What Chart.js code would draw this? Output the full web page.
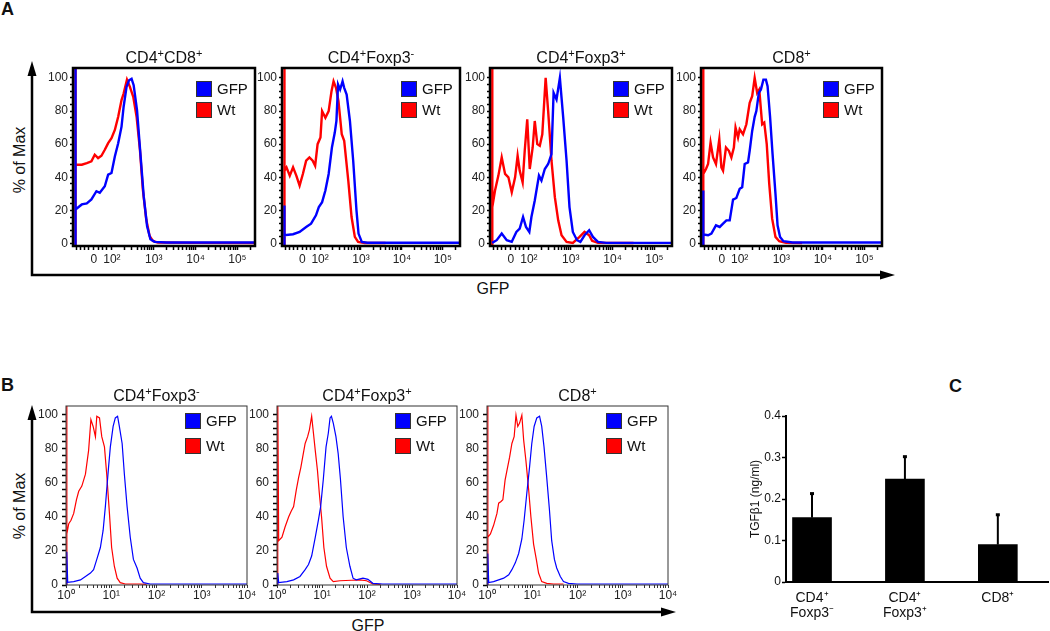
<!DOCTYPE html>
<html lang="en">
<head>
<meta charset="UTF-8">
<title>GFP reporter histograms and TGFβ1</title>
<script src="https://cdn.jsdelivr.net/npm/chart.js"></script>
<style>
    body { margin: 0; background: #fff; font-family: "Liberation Sans", Arial, sans-serif; }
    #page { position: relative; width: 1050px; height: 631px; overflow: hidden; background: #fff; }
    #page canvas { position: absolute; }
    #axes { position: absolute; left: 0; top: 0; }
    .lbl { position: absolute; color: #111; white-space: nowrap; font-size: 16px; line-height: 18px; }
    .letter { font-weight: bold; font-size: 18px; }
    .rot { transform: translate(-50%, -50%) rotate(-90deg); }
    .ctr { transform: translate(-50%, -50%); }
</style>
</head>
<body>
<div id="page">
    <svg id="axes" width="1050" height="631">
        <polyline points="32,74 32,275 881,275" fill="none" stroke="#000" stroke-width="2.5"/>
        <polygon points="32,61 27.5,76 36.5,76" fill="#000"/>
        <polygon points="895,275 880,270.5 880,279.5" fill="#000"/>
        <polyline points="32,418 32,612 662,612" fill="none" stroke="#000" stroke-width="2.5"/>
        <polygon points="32,405 27.5,420 36.5,420" fill="#000"/>
        <polygon points="676,612 661,607.5 661,616.5" fill="#000"/>
    </svg>
    <div class="lbl letter" style="left:1px;top:0px">A</div>
    <div class="lbl letter" style="left:1px;top:376px">B</div>
    <div class="lbl letter" style="left:949px;top:377px">C</div>
    <div class="lbl rot" style="left:20px;top:160px">% of Max</div>
    <div class="lbl ctr" style="left:493px;top:289px">GFP</div>
    <div class="lbl rot" style="left:20px;top:506px">% of Max</div>
    <div class="lbl ctr" style="left:368px;top:626px">GFP</div>
</div>

<script>
    Chart.defaults.font.family = '"Liberation Sans", Arial, sans-serif';
    Chart.defaults.color = '#111';

    // ---- data ----
    const SERIES = ['GFP', 'Wt'];
    const SERIES_COLORS = ['#0000ff', '#ff0000'];

    // panel A: x in display decades of the biexponential axis, y in % of max
    const A_TITLES = ['CD4⁺CD8⁺', 'CD4⁺Foxp3⁻', 'CD4⁺Foxp3⁺', 'CD8⁺'];
    const A_X_TICKS = [1.57, 2, 3, 4, 5];
    const A_X_LABELS = ['0', '10²', '10³', '10⁴', '10⁵'];
    const A_Y_LABELS = [0, 20, 40, 60, 80, 100];

    const A1_GFP = [[1.12,-2],[1.12,120],[1.14,20.6],[1.28,23.6],[1.40,24.2],[1.51,26.6],[1.63,31.6],[1.71,30.6],[1.83,34.6],[1.91,41.6],[1.99,42.6],[2.07,52.6],[2.15,60.6],[2.23,70.6],[2.28,82.6],[2.35,94.6],[2.41,98.6],[2.47,99.5],[2.52,95.6],[2.60,80.6],[2.68,54.6],[2.76,28.6],[2.84,10.6],[2.92,2.6],[3.02,1],[3.30,0.6],[4.89,0.6],[5.42,0.6]];
    const A1_WT = [[1.12,-2],[1.12,120],[1.14,47.6],[1.28,47.6],[1.40,48.6],[1.51,49.6],[1.59,53.6],[1.67,51.6],[1.75,53],[1.83,56.6],[1.91,60.6],[1.99,63.6],[2.07,68.6],[2.15,76.6],[2.23,86.6],[2.28,90.6],[2.36,99],[2.43,94.6],[2.51,88.6],[2.59,76.6],[2.67,56.6],[2.74,32.6],[2.82,14.6],[2.90,4.6],[2.98,1.6],[3.10,0.6],[4.0,0.4],[5.42,0.3]];

    const A2_GFP = [[1.12,-2],[1.12,23],[1.14,5],[1.34,5.6],[1.50,7],[1.66,10],[1.78,12],[1.90,17],[1.97,22],[2.05,25],[2.13,32],[2.21,42],[2.29,58],[2.36,67],[2.40,74],[2.44,96],[2.49,93],[2.55,98],[2.59,94],[2.65,90],[2.73,74],[2.81,50],[2.89,20],[2.94,6],[3.02,1],[3.16,0.5],[5.42,0.5]];
    const A2_WT = [[1.12,-2],[1.12,120],[1.14,44],[1.18,46],[1.26,41],[1.34,46],[1.42,41],[1.50,35],[1.58,42],[1.66,50],[1.74,52],[1.82,50],[1.88,47],[1.94,60],[2.01,64],[2.05,80],[2.13,76],[2.21,80],[2.28,92],[2.33,98],[2.39,94],[2.45,86],[2.53,66],[2.59,62],[2.69,38],[2.77,16],[2.85,4],[2.93,1],[3.09,0.3],[3.6,0.3]];

    const A3_GFP = [[1.12,0.4],[1.23,2],[1.35,6],[1.47,2],[1.59,1],[1.70,7],[1.78,9],[1.86,16],[1.93,10],[2.01,7],[2.06,16],[2.14,26],[2.24,41],[2.30,38],[2.38,45],[2.46,48],[2.54,54],[2.59,91],[2.66,87],[2.74,100],[2.82,76],[2.90,50],[2.97,22],[3.05,7],[3.15,2],[3.23,1],[3.33,5],[3.44,8],[3.53,4],[3.65,1],[3.85,0.4],[5.42,0.4]];
    const A3_WT = [[1.12,-2],[1.12,120],[1.13,22],[1.19,32],[1.27,41],[1.35,52],[1.43,42],[1.51,40],[1.59,31],[1.67,40],[1.73,53],[1.78,44],[1.85,37],[1.90,56],[1.96,75],[2.02,45],[2.09,58],[2.14,74],[2.20,60],[2.26,59],[2.32,66],[2.40,100],[2.46,80],[2.54,50],[2.62,28],[2.70,14],[2.78,5],[2.90,1],[3.05,0.4],[3.21,4],[3.33,7],[3.44,5],[3.51,1.6],[3.65,0.4],[4.5,0.3]];

    const A4_GFP = [[1.12,-2],[1.12,32],[1.13,5.5],[1.24,5],[1.32,6],[1.43,11],[1.52,10],[1.60,12],[1.68,14],[1.76,14],[1.84,26.5],[1.92,27.5],[2.00,33],[2.06,34],[2.12,48],[2.20,49],[2.24,56],[2.30,68],[2.36,76.5],[2.40,80],[2.46,91],[2.51,93],[2.57,99],[2.63,99],[2.67,95],[2.73,76.5],[2.79,54],[2.86,30],[2.91,11],[2.97,4],[3.05,1.4],[3.27,0.6],[5.42,0.6]];
    const A4_WT = [[1.12,-2],[1.12,120],[1.13,42],[1.19,45],[1.24,48],[1.30,61],[1.36,52],[1.43,48],[1.51,63],[1.56,46],[1.60,44],[1.67,58],[1.74,56],[1.80,52],[1.86,58],[1.90,70],[1.96,64],[2.00,69],[2.08,66],[2.16,72],[2.24,85],[2.30,89],[2.36,100],[2.42,91],[2.47,93],[2.54,72],[2.59,73],[2.65,60],[2.71,36],[2.78,15],[2.86,4],[2.95,1.4],[3.11,0.4],[3.5,0.3]];

    // panel B: x in fluorescence units (log axis), y in % of max
    const B_TITLES = ['CD4⁺Foxp3⁻', 'CD4⁺Foxp3⁺', 'CD8⁺'];
    const B_X_LABELS = ['10⁰', '10¹', '10²', '10³', '10⁴'];
    const B_Y_LABELS = [0, 20, 40, 60, 80, 100];

    const B1_GFP = [[1.04,-1],[1.04,19.5],[1.09,1.6],[1.48,2],[2.09,3],[2.69,5],[3.47,7],[4.07,9],[4.79,15],[5.75,22],[6.61,32],[7.41,46],[7.94,56],[8.71,69],[9.55,81],[11.0,93],[12.3,98],[13.8,99],[15.1,93],[17.4,83],[19.5,65],[22.4,46],[26.3,28],[30.9,15],[37.2,10],[43.6,4],[51.3,1.4],[72.4,0.6],[10000,0.6]];
    const B1_WT = [[1.04,-1],[1.04,110],[1.05,30],[1.15,36],[1.29,38],[1.48,42],[1.70,50],[1.91,55],[2.24,58],[2.69,65],[3.16,79],[3.55,97],[3.98,93],[4.47,87],[4.79,99],[5.50,98],[6.17,87],[7.08,81],[7.94,65],[9.12,42],[10.2,22],[11.7,11],[13.5,4],[15.8,1.4],[20.4,0.6],[43.6,0.6],[60,0.4]];

    const B2_GFP = [[1.04,-1],[1.04,7],[1.09,1.4],[1.66,2],[2.34,3],[3.24,5],[4.22,9],[5.01,12],[5.89,17],[7.08,28],[8.32,38],[9.33,46],[10.7,62],[12.3,81],[13.8,89],[15.1,98],[16.2,99],[17.8,95],[20.4,87],[22.9,77],[25.7,62],[29.5,40],[34.7,22],[41.7,11],[49.0,4],[57.5,3],[81.3,4],[105,3.3],[135,1],[224,0.6],[10000,0.6]];
    const B2_WT = [[1.04,-1],[1.04,110],[1.09,26],[1.29,28],[1.51,34],[1.82,40],[2.04,43],[2.34,46],[2.69,56],[3.02,63],[3.39,69],[3.72,75],[4.22,83],[4.79,87],[5.25,91],[5.89,99],[6.46,89],[7.08,79],[7.94,67],[8.71,54],[9.77,40],[11.0,22],[12.6,11],[15.1,4],[17.8,2],[25.1,2.5],[45,2.8],[69.2,3],[97.7,2.5],[135,0.6],[200,0.4]];

    const B3_GFP = [[1.04,-1],[1.04,18.5],[1.09,1.4],[1.40,2],[1.81,3],[2.34,4],[3.02,6],[3.55,9],[4.22,13],[5.01,18.5],[5.89,27],[6.61,38],[7.59,54],[8.71,69],[9.77,83],[11.0,93],[12.6,98],[14.5,99],[16.2,93],[18.2,81],[20.9,63],[24.0,44],[26.9,26],[30.9,15],[34.7,10],[41.7,5],[49.0,2],[63.1,1],[97.7,0.6],[10000,0.6]];
    const B3_WT = [[1.04,-1],[1.04,110],[1.05,28],[1.19,30],[1.40,35],[1.66,42],[1.81,48],[2.04,49],[2.24,50],[2.51,61.5],[2.75,67],[3.16,75],[3.55,83],[3.98,87],[4.37,99.6],[4.79,93],[5.25,95],[5.89,99.6],[6.46,85],[7.24,73],[8.32,56],[9.33,40],[10.7,24],[12.3,15],[13.8,7],[16.2,2],[20.9,1],[29.5,0.6],[49.0,0.6]];

    // panel C
    const C_CATEGORIES = [['CD4⁺', 'Foxp3⁻'], ['CD4⁺', 'Foxp3⁺'], ['CD8⁺']];
    const C_MEAN = [0.155, 0.248, 0.09];
    const C_ERR = [0.058, 0.054, 0.072];
    const C_Y_TICKS = [0, 0.1, 0.2, 0.3, 0.4];
    const C_Y_LABELS = ['0', '0.1', '0.2', '0.3', '0.4'];

    // ---- layout ----
    const A_BOXES = [[73, 255], [282, 460], [490, 672], [701, 882]];
    const A_TOP = 68, A_BOTTOM = 246;
    const B_BOXES = [[66, 247], [277, 457], [487, 668]];
    const B_TOP = 406, B_BOTTOM = 585;

    const page = document.getElementById('page');
    const FONT = '"Liberation Sans", Arial, sans-serif';

    function addCanvas(left, top, w, h) {
        const c = document.createElement('canvas');
        c.width = w; c.height = h;
        c.style.left = left + 'px'; c.style.top = top + 'px';
        c.style.width = w + 'px'; c.style.height = h + 'px';
        page.appendChild(c);
        return c;
    }

    function steps(from, to, step) {
        const out = [];
        for (let v = from; v <= to + 1e-9; v += step) out.push(+v.toFixed(4));
        return out;
    }

    // split "CD4⁺Foxp3⁻" into normal and raised pieces
    const SUP = { '⁺': '+', '⁻': '-' };
    function splitSup(text) {
        const parts = [];
        for (const ch of text) {
            const sup = ch in SUP;
            const c = sup ? SUP[ch] : ch;
            const last = parts[parts.length - 1];
            if (last && last.sup === sup) last.t += c;
            else parts.push({ t: c, sup });
        }
        return parts;
    }

    // title with real superscripts, centred over the plot area
    const richTitle = {
        id: 'richTitle',
        afterDraw(chart, args, o) {
            const { ctx, chartArea: a } = chart;
            const parts = splitSup(o.text);
            ctx.save();
            ctx.fillStyle = '#111';
            ctx.textBaseline = 'alphabetic';
            let total = 0;
            parts.forEach(p => {
                ctx.font = (p.sup ? o.supSize : o.size) + 'px ' + FONT;
                p.w = ctx.measureText(p.t).width;
                total += p.w;
            });
            let x = (a.left + a.right) / 2 - total / 2;
            const base = a.top - o.gap;
            parts.forEach(p => {
                ctx.font = (p.sup ? o.supSize : o.size) + 'px ' + FONT;
                ctx.fillText(p.t, x, p.sup ? base - o.raise : base);
                x += p.w;
            });
            ctx.restore();
        }
    };

    // plot frame drawn over the curves
    const framePlugin = {
        id: 'frame',
        afterDatasetsDraw(chart, args, o) {
            const { ctx, chartArea: a } = chart;
            ctx.save();
            ctx.strokeStyle = o.color;
            ctx.lineWidth = o.width;
            ctx.strokeRect(a.left, a.top, a.right - a.left, a.bottom - a.top);
            ctx.restore();
        }
    };

    // legend boxes inside the plot, top right
    const boxLegend = {
        id: 'boxLegend',
        afterDraw(chart, args, o) {
            const { ctx, chartArea: a } = chart;
            ctx.save();
            ctx.font = o.fontSize + 'px ' + FONT;
            ctx.textBaseline = 'middle';
            chart.data.datasets.forEach((ds, i) => {
                const x = a.right - o.right, y = a.top + o.top + i * o.gap;
                ctx.fillStyle = ds.borderColor;
                ctx.fillRect(x, y, o.size, o.size);
                ctx.strokeStyle = '#333';
                ctx.lineWidth = 1;
                ctx.strokeRect(x + 0.5, y + 0.5, o.size - 1, o.size - 1);
                ctx.fillStyle = '#111';
                ctx.fillText(ds.label, x + o.size + 5, y + o.size / 2 + 1);
            });
            ctx.restore();
        }
    };

    const errorBars = {
        id: 'errorBars',
        afterDatasetsDraw(chart) {
            const { ctx } = chart;
            const y = chart.scales.y;
            ctx.save();
            ctx.strokeStyle = '#000';
            ctx.fillStyle = '#000';
            ctx.lineWidth = 2;
            chart.getDatasetMeta(0).data.forEach((bar, i) => {
                const top = y.getPixelForValue(C_MEAN[i] + C_ERR[i]);
                ctx.beginPath();
                ctx.moveTo(bar.x, bar.y);
                ctx.lineTo(bar.x, top);
                ctx.stroke();
                ctx.fillRect(bar.x - 2, top - 1.5, 4, 3);
            });
            ctx.restore();
        }
    };

    function aMarks() {
        const marks = [1.15, 1.25, 1.35, 1.45, 1.67, 1.77, 1.87].concat(A_X_TICKS);
        for (let n = 2; n <= 5; n++) {
            for (let k = 2; k <= 9; k++) {
                const u = n + Math.log10(k);
                if (u < 5.42) marks.push(u);
            }
        }
        return marks.sort((p, q) => p - q);
    }

    function bMarks() {
        const marks = [];
        for (let e = 0; e < 4; e++) for (let k = 1; k <= 9; k++) marks.push(k * Math.pow(10, e));
        marks.push(10000);
        return marks;
    }

    function histogram(box, top, bottom, title, curves, xScale, look) {
        const yW = 40, titleH = 24, padR = 15;
        const canvas = addCanvas(box[0] - yW, top - titleH, yW + box[1] - box[0] + padR, titleH + bottom - top + look.xH);
        return new Chart(canvas, {
            type: 'scatter',
            data: {
                datasets: curves.map((pts, i) => ({
                    label: SERIES[i],
                    data: pts.map(p => ({ x: p[0], y: p[1] })),
                    showLine: true,
                    borderColor: SERIES_COLORS[i],
                    backgroundColor: SERIES_COLORS[i],
                    borderWidth: look.lineW,
                    pointRadius: 0,
                    tension: 0
                }))
            },
            options: {
                responsive: false,
                animation: false,
                events: [],
                layout: { padding: { top: titleH, right: padR } },
                plugins: {
                    legend: { display: false },
                    tooltip: { enabled: false },
                    richTitle: { text: title, size: 16, supSize: 11, raise: 6, gap: 5 },
                    frame: { color: look.frameColor, width: look.frameW },
                    boxLegend: look.legend
                },
                scales: {
                    x: xScale,
                    y: {
                        type: 'linear', min: look.yMin, max: look.yMax,
                        afterFit: s => { s.width = yW; },
                        afterBuildTicks: s => { s.ticks = steps(0, 100, 4).map(v => ({ value: v })); },
                        ticks: {
                            autoSkip: false, padding: look.yPad, color: '#222', font: { size: 12 },
                            callback: v => look.yLabels.includes(v) ? String(v) : ''
                        },
                        grid: { drawOnChartArea: false, tickLength: look.yTick, tickWidth: 1.5, tickColor: '#000' },
                        border: { display: false }
                    }
                }
            },
            plugins: [framePlugin, boxLegend, richTitle]
        });
    }

    // ---- panel A ----
    const A_CURVES = [[A1_GFP, A1_WT], [A2_GFP, A2_WT], [A3_GFP, A3_WT], [A4_GFP, A4_WT]];
    const aLook = {
        xH: 25, lineW: 2.4, frameColor: '#000', frameW: 2.5, yMin: -1.5, yMax: 106,
        yPad: 2, yTick: 3, yLabels: A_Y_LABELS,
        legend: { right: 59, top: 13, gap: 21, size: 16, fontSize: 15 }
    };
    A_BOXES.forEach((box, i) => {
        histogram(box, A_TOP, A_BOTTOM, A_TITLES[i], A_CURVES[i], {
            type: 'linear', min: 1.07, max: 5.42,
            afterFit: s => { s.height = 25; },
            afterBuildTicks: s => { s.ticks = aMarks().map(v => ({ value: v })); },
            ticks: {
                autoSkip: false, maxRotation: 0, padding: 2, color: '#222', font: { size: 12 },
                callback: v => {
                    const k = A_X_TICKS.findIndex(t => Math.abs(t - v) < 1e-6);
                    return k >= 0 ? A_X_LABELS[k] : '';
                }
            },
            grid: { drawOnChartArea: false, tickLength: 4, tickWidth: 1.5, tickColor: '#000' },
            border: { display: false }
        }, aLook);
    });

    // ---- panel B ----
    const B_CURVES = [[B1_GFP, B1_WT], [B2_GFP, B2_WT], [B3_GFP, B3_WT]];
    const bLook = {
        xH: 20, lineW: 1.2, frameColor: '#333', frameW: 1, yMin: 0, yMax: 105,
        yPad: 4, yTick: 4, yLabels: B_Y_LABELS,
        legend: { right: 62, top: 7, gap: 25, size: 16, fontSize: 15 }
    };
    B_BOXES.forEach((box, i) => {
        histogram(box, B_TOP, B_BOTTOM, B_TITLES[i], B_CURVES[i], {
            type: 'logarithmic', min: 1, max: 10000,
            afterFit: s => { s.height = 20; },
            afterBuildTicks: s => { s.ticks = bMarks().map(v => ({ value: v })); },
            ticks: {
                autoSkip: false, maxRotation: 0, padding: 0, color: '#222', font: { size: 12 },
                callback: v => {
                    const e = Math.log10(v);
                    return Math.abs(e - Math.round(e)) < 1e-9 ? B_X_LABELS[Math.round(e)] : '';
                }
            },
            grid: { drawOnChartArea: false, tickLength: 3, tickWidth: 1, tickColor: '#333' },
            border: { display: false }
        }, bLook);
    });

    // ---- panel C ----
    const cCanvas = addCanvas(746, 400, 304, 227);
    new Chart(cCanvas, {
        type: 'bar',
        data: {
            datasets: [{
                data: C_MEAN.map((v, i) => ({ x: i + 1, y: v })),
                backgroundColor: '#000',
                borderWidth: 0,
                barThickness: 39
            }]
        },
        options: {
            responsive: false,
            animation: false,
            events: [],
            layout: { padding: { top: 16, right: 2 } },
            plugins: { legend: { display: false }, tooltip: { enabled: false } },
            scales: {
                x: {
                    type: 'linear', min: 0.72, max: 3.54, offset: false,
                    afterFit: s => { s.height = 45; },
                    afterBuildTicks: s => { s.ticks = C_CATEGORIES.map((c, i) => ({ value: i + 1 })); },
                    ticks: {
                        autoSkip: false, maxRotation: 0, padding: 9, color: '#111',
                        font: { size: 14, lineHeight: 1.05 },
                        callback: v => C_CATEGORIES[Math.round(v) - 1]
                    },
                    grid: { display: true, drawOnChartArea: false, drawTicks: false, offset: false },
                    border: { display: true, color: '#000', width: 2 }
                },
                y: {
                    min: 0, max: 0.4,
                    afterFit: s => { s.width = 40; },
                    afterBuildTicks: s => { s.ticks = C_Y_TICKS.map(v => ({ value: v })); },
                    ticks: {
                        autoSkip: false, padding: 1, color: '#111', font: { size: 12 },
                        callback: (v, i) => C_Y_LABELS[i]
                    },
                    grid: { drawOnChartArea: false, tickLength: 4, tickWidth: 1.5, tickColor: '#000' },
                    border: { display: true, color: '#000', width: 2 },
                    title: {
                        display: true, text: 'TGFβ1 (ng/ml)', color: '#111',
                        font: { size: 12 }, padding: { top: 2, bottom: 0 }
                    }
                }
            }
        },
        plugins: [errorBars]
    });
</script>
</body>
</html>
